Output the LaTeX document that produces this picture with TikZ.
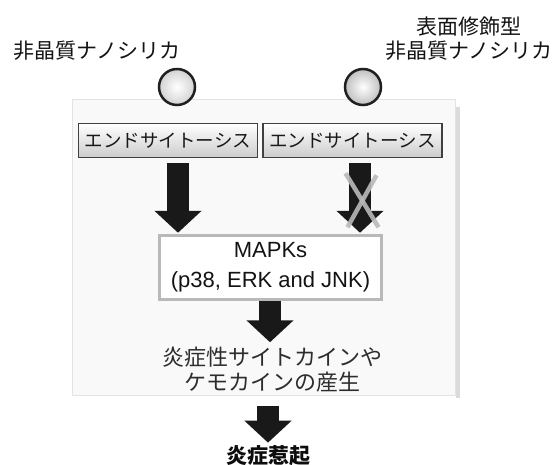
\documentclass[tikz,border=0pt]{standalone}
\usepackage{fontspec}
\setmainfont{Liberation Sans}
\newfontfamily\cjk{Noto Sans CJK JP}
\usetikzlibrary{arrows.meta,calc}
\begin{document}
\begin{tikzpicture}[x=1pt,y=-1pt,
  lbl/.style={font=\cjk\fontsize{21}{24}\selectfont, text=gray!15!black, inner sep=0, align=center},
  endo/.style={draw=gray!50!black, line width=1.5pt, top color=white, bottom color=gray!40,
     minimum width=179pt, minimum height=34pt, font=\cjk\fontsize{18.5}{20}\selectfont,
     text=gray!20!black, inner sep=0},
  ball/.style={circle, minimum size=36pt, draw=gray!25!black, line width=2.5pt,
     inner color=white, outer color=gray!35, inner sep=0},
  panelbox/.style={fill=gray!5, draw=gray!22, line width=1pt, minimum width=383pt, minimum height=295pt, inner sep=0},
  mapbox/.style={fill=white, draw=gray!55, line width=3.5pt, minimum width=222pt, minimum height=64pt,
     align=center, font=\fontsize{22}{30}\selectfont, text=gray!15!black, inner sep=0},
  bodytext/.style={font=\cjk\fontsize{22}{25}\selectfont, text=gray!35!black, align=center, inner sep=0},
  fat/.style={line width=22pt, draw=gray!20!black, -{Triangle[width=46pt,length=22pt]}},
  xmark/.style={draw=gray!55, line width=4.5pt, opacity=0.9}
]
\useasboundingbox (0,0) rectangle (556,465);

% panel
\node[panelbox] (P) at (264,247.5) {};
\fill[gray!28] ($(P.north east)+(0,8)$) rectangle ($(P.south east)+(4,2)$);

% top labels
\node[lbl] (L1) at (97,51) {非晶質ナノシリカ};
\node[lbl] (L2) at (469,38.5) {表面修飾型\\非晶質ナノシリカ};

% particles
\node[ball] (B1) at (177,87) {};
\node[ball, outer color=gray!50] (B2) at (363,87) {};

% endocytosis boxes
\node[endo] (eL) at (168,140.5) {エンドサイトーシス};
\node[endo] (eR) at (352.5,140.5) {エンドサイトーシス};

% MAPKs
\node[mapbox] (M) at (270.5,267.5) {MAPKs\\(p38, ERK and JNK)};

% production text
\node[bodytext] (T) at (272,369.5) {炎症性サイトカインや\\ケモカインの産生};

% final
\node[lbl, font=\cjk\bfseries\fontsize{21}{24}\selectfont, text=gray!10!black] (F) at (268,456) {炎症惹起};

% arrows
\coordinate (a1s) at ($(eL.south)+(10,5)$);
\coordinate (a1e) at ($(M.north -| eL.south)+(10,-1)$);
\coordinate (a2s) at ($(eR.south)+(7.5,5)$);
\coordinate (a2e) at ($(M.north -| eR.south)+(7.5,-1)$);
\coordinate (a3e) at ($(M.south)+(-0.5,41)$);
\coordinate (a4s) at ($(P.south -| F.north)+(0,10)$);
\coordinate (a4e) at ($(F.north)+(0,-3)$);
\draw[fat] (a1s) -- (a1e);
\draw[fat] (a2s) -- (a2e);
\draw[fat] ($(M.south)+(-0.5,0)$) -- (a3e);
\draw[fat] (a4s) -- (a4e);

% cross over right arrow
\coordinate (x1) at ($(eR.south)+(-7,15)$);
\coordinate (x2) at ($(eR.south)+(26,69)$);
\coordinate (x3) at ($(eR.south)+(24,17)$);
\coordinate (x4) at ($(eR.south)+(-5,69)$);
\draw[xmark] (x1) -- (x2);
\draw[xmark] (x3) -- (x4);
\end{tikzpicture}
\end{document}
